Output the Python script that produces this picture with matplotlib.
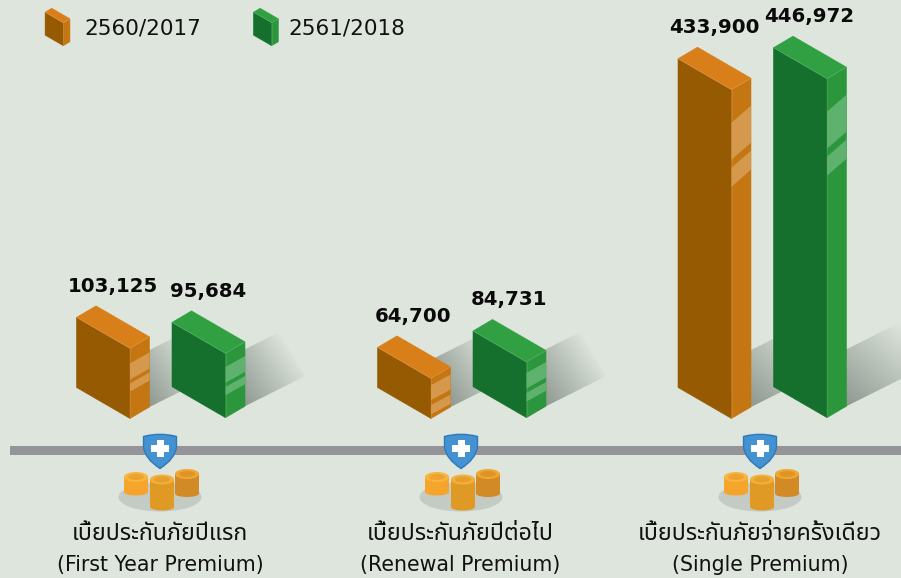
import numpy as np
import matplotlib
matplotlib.use('Agg')
import matplotlib.pyplot as plt
from matplotlib.patches import Ellipse, PathPatch, Polygon, Rectangle
from matplotlib.path import Path

# Data
series_names = ['2560/2017', '2561/2018']
values_2017 = [103125, 64700, 433900]
values_2018 = [95684, 84731, 446972]
labels_th = ['เบี้ยประกันภัยปีแรก', 'เบี้ยประกันภัยปีต่อไป', 'เบี้ยประกันภัยจ่ายครั้งเดียว']
labels_en = ['(First Year Premium)', '(Renewal Premium)', '(Single Premium)']

BG = '#dde5dc'
ORANGE = {'top': '#d97f19', 'left': '#955a02', 'right': '#c47612', 'stripe': '#d5994e'}
GREEN = {'top': '#30a043', 'left': '#14702c', 'right': '#2c963d', 'stripe': '#5fb26e'}
THAI_FONT = ['DejaVu Sans', 'Noto Sans Thai']

fig = plt.figure(figsize=(9.01, 5.78), dpi=100, facecolor=BG)
ax = fig.add_axes([0, 0, 1, 1])
ax.set_facecolor(BG)


def bar_height(value):
    # value -> pixels, fitted on the six bars
    return 0.000782 * value - 10.5


def draw_box(x, base, h, colors, scale=1.0, stripes=True):
    # x, base = bottom of the front corner
    lx, ly = 53.5 * scale, 31 * scale
    rx, ry = 19.5 * scale, 11.5 * scale
    top = base - h
    left = [(x - lx, top - ly), (x, top), (x, base), (x - lx, base - ly)]
    right = [(x, top), (x + rx, top - ry), (x + rx, base - ry), (x, base)]
    upper = [(x - lx, top - ly), (x - lx + rx, top - ly - ry), (x + rx, top - ry), (x, top)]
    ax.add_patch(Polygon(left, fc=colors['left'], ec=colors['left'], lw=0.4, zorder=3))
    ax.add_patch(Polygon(right, fc=colors['right'], ec=colors['right'], lw=0.4, zorder=3))
    ax.add_patch(Polygon(upper, fc=colors['top'], ec=colors['top'], lw=0.4, zorder=3))
    ax.plot([x - lx, x, x + rx], [top - ly, top, top - ry], color='white', alpha=0.18, lw=0.5, zorder=4)
    ax.plot([x, x], [top, base], color='white', alpha=0.12, lw=0.5, zorder=4)
    if stripes:
        known_h = [42, 69, 328]
        a = np.interp(h, known_h, [6.7, 15, 33])
        b = np.interp(h, known_h, [21.7, 31, 70])
        c = np.interp(h, known_h, [26.7, 35, 78])
        d = np.interp(h, known_h, [36, 43, 97])
        rise = np.interp(h, known_h, [10.5, 11, 17])
        for y0, y1 in [(a, b), (c, d)]:
            ax.add_patch(Polygon([(x, top + y0), (x + rx, top + y0 - rise),
                                  (x + rx, top + y1 - rise), (x, top + y1)],
                                 fc=colors['stripe'], ec='none', zorder=4))


def draw_shadow(x, base, h):
    # soft cast shadow, starts from the right edge of the box
    rx = x + 19.5
    y_bot = base - 11.5
    y_top = y_bot - 57
    length = 105 if h > 100 else 60
    pts = [(rx - 20, y_bot + 10), (rx, y_bot), (rx + length, y_bot - length * 0.5),
           (rx + length * 0.56, y_top - length * 0.28), (rx, y_top), (rx - 20, y_top + 10)]
    x0, x1 = rx - 20, rx + length
    y0, y1 = y_top - length * 0.3, y_bot + 10
    xs, ys = np.meshgrid(np.linspace(x0, x1, 500), np.linspace(y0, y1, 500))
    t = (xs - rx) / length * 0.7 + (y_bot - ys) / 57 * 0.45
    img = np.zeros(xs.shape + (4,))
    img[..., :3] = (0.36, 0.40, 0.37)
    img[..., 3] = np.clip(0.6 * (1 - t), 0, 1)
    im = ax.imshow(img, extent=(x0, x1, y1, y0), origin='upper', aspect='auto', zorder=2,
                   interpolation='bilinear')
    im.set_clip_path(Polygon(pts, transform=ax.transData))


def draw_icons(cx):
    # shield
    shield = Path([(cx - 16.5, 436.5), (cx, 432), (cx + 16.5, 436.5), (cx + 16.5, 447),
                   (cx + 15, 459), (cx, 468.5), (cx - 15, 459), (cx - 16.5, 447), (cx - 16.5, 436.5)],
                  [Path.MOVETO, Path.CURVE3, Path.CURVE3, Path.LINETO,
                   Path.CURVE3, Path.CURVE3, Path.CURVE3, Path.CURVE3, Path.CLOSEPOLY])
    ax.add_patch(PathPatch(shield, fc='#4492d2', ec='#2f7ab8', lw=1, zorder=6))
    ax.add_patch(Rectangle((cx - 8.8, 445), 17.6, 7, fc='white', ec='none', zorder=7))
    ax.add_patch(Rectangle((cx - 3.5, 440), 7, 17, fc='white', ec='none', zorder=7))
    # coins
    ax.add_patch(Ellipse((cx, 497), 83, 29, fc='#c4cbc4', ec='none', zorder=5))
    coins = [(-24, 477, 495, '#f5a52c', '#f9b53e', '#eda42e'),
             (27, 474, 496.5, '#d18a26', '#f1a62f', '#dc9526'),
             (2, 479.5, 510, '#df9a26', '#f5b03a', '#e4a02c')]
    for dx, y0, y1, body, rim, inner in coins:
        ax.add_patch(Rectangle((cx + dx - 12, y0), 24, y1 - y0 - 3, fc=body, ec='none', zorder=6))
        ax.add_patch(Ellipse((cx + dx, y1 - 3), 24, 7, fc=body, ec='none', zorder=6))
        ax.add_patch(Ellipse((cx + dx, y0), 24, 10, fc=rim, ec='none', zorder=6))
        ax.add_patch(Ellipse((cx + dx, y0), 16, 6, fc=inner, ec='none', zorder=6))


# Axis line
ax.add_patch(Rectangle((10, 446), 891, 9, fc='#959599', ec='none', zorder=1))

# Bars
group_x = [130, 431, 731.5]
for i in range(3):
    for vals, colors, x, base in [(values_2017, ORANGE, group_x[i], 418.5),
                                  (values_2018, GREEN, group_x[i] + 95.5, 417.7)]:
        h = bar_height(vals[i])
        draw_shadow(x, base, h)
        draw_box(x, base, h, colors)
        ax.text(x - 17.5, base - h - 42.5 - 19.5, f'{vals[i]:,}', ha='center', va='center',
                fontsize=14.2, fontweight='bold', color='#0a0a0a', family='DejaVu Sans', zorder=8)

# Icons and category labels
icon_x = [160, 461, 760]
label_x = [160, 460, 760]
for i in range(3):
    draw_icons(icon_x[i])
    ax.text(label_x[i], 534, labels_th[i], ha='center', va='center', fontsize=16.7, color='#111111',
            family=THAI_FONT, zorder=8)
    ax.text(label_x[i], 565, labels_en[i], ha='center', va='center', fontsize=14.8, color='#111111',
            family=THAI_FONT, zorder=8)

# Legend
draw_box(63.3, 45.7, 23, ORANGE, scale=0.34, stripes=False)
draw_box(271.7, 45.7, 23, GREEN, scale=0.34, stripes=False)
ax.text(84, 29, series_names[0], ha='left', va='center', fontsize=15.5, color='#111111', family='DejaVu Sans')
ax.text(288, 29, series_names[1], ha='left', va='center', fontsize=15.5, color='#111111', family='DejaVu Sans')

ax.set_xlim(0, 901)
ax.set_ylim(578, 0)
ax.axis('off')

fig.savefig('out.png', dpi=100, facecolor=BG)
